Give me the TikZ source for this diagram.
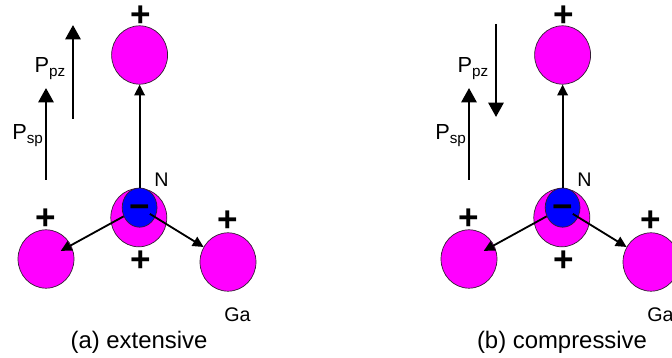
\documentclass[tikz,border=0pt]{standalone}
\usepackage{fontspec}
\setmainfont{Liberation Sans}
\usetikzlibrary{arrows.meta,shapes.geometric}
\definecolor{gamag}{RGB}{255,0,255}
\definecolor{nblue}{RGB}{0,0,255}
\definecolor{rim}{RGB}{50,30,50}

\begin{document}
\begin{tikzpicture}[x=1cm,y=1cm,font=\fontsize{14}{16}\selectfont,
ga/.style={ellipse,draw=rim,line width=.5pt,fill=gamag,minimum width=1.4cm,minimum height=1.46cm,inner sep=0pt},
nat/.style={ellipse,draw=rim,line width=.5pt,fill=nblue,minimum width=.87cm,minimum height=.98cm,inner sep=0pt},
chg/.style={font=\fontsize{25}{25}\selectfont\bfseries,inner sep=0pt},
bond/.style={-{Triangle[length=.27cm,width=.26cm]},line width=1.3pt},
pol/.style={-{Triangle[length=.36cm,width=.38cm]},line width=1.8pt},
lab/.style={anchor=base west,inner sep=0pt},
plab/.style={lab,font=\fontsize{15.5}{17}\selectfont},
captxt/.style={anchor=base,inner sep=0pt,font=\fontsize{17}{20}\selectfont}]
\useasboundingbox (0,0) rectangle (16.8,8.95);

% (a) extensive
\node[ga] (aT) at(3.49,7.575){};
\node[ga] (aL) at(1.15,2.475){};
\node[ga] (aR) at(5.7,2.4){};
\node[ga] (aC) at(3.47,3.51){};
\node[nat] (aN) at(3.49,3.76){};
\node[chg] (aNm) at(3.49,3.66){−};
\node[chg] (aTp) at(3.525,8.55){+};
\node[chg] (aLp) at(1.15,3.475){+};
\node[chg] (aRp) at(5.7,3.41){+};
\node[chg] (aBp) at(3.525,2.425){+};
\draw[bond](aN)--(aT);
\draw[bond,shorten >=.42cm](aN)--(aL.center);
\draw[bond,shorten <=.3cm](aN.center)--(aR);
\coordinate (aS0) at(1.15,4.45); \coordinate (aS1) at(1.15,6.75);
\coordinate (aZ0) at(1.825,5.975); \coordinate (aZ1) at(1.825,8.325);
\draw[pol](aS0)--(aS1);
\draw[pol](aZ0)--(aZ1);
\node[plab] (aPs) at(.3,5.45){P\textsubscript{sp}};
\node[plab] (aPz) at(.86,7.125){P\textsubscript{pz}};
\node[lab] (aNl) at(3.85,4.275){N};
\node[lab] (aGa) at(5.6,.9){Ga};
\node[captxt] (aCap) at(3.475,.225){(a) extensive};

% (b) compressive
\node[ga] (bT) at(14.065,7.575){};
\node[ga] (bL) at(11.725,2.475){};
\node[ga] (bR) at(16.275,2.4){};
\node[ga] (bC) at(14.045,3.51){};
\node[nat] (bN) at(14.065,3.76){};
\node[chg] (bNm) at(14.065,3.66){−};
\node[chg] (bTp) at(14.1,8.55){+};
\node[chg] (bLp) at(11.725,3.475){+};
\node[chg] (bRp) at(16.275,3.41){+};
\node[chg] (bBp) at(14.1,2.425){+};
\draw[bond](bN)--(bT);
\draw[bond,shorten >=.42cm](bN)--(bL.center);
\draw[bond,shorten <=.3cm](bN.center)--(bR);
\coordinate (bS0) at(11.725,4.45); \coordinate (bS1) at(11.725,6.75);
\coordinate (bZ0) at(12.4,8.35); \coordinate (bZ1) at(12.4,6.025);
\draw[pol](bS0)--(bS1);
\draw[pol](bZ0)--(bZ1);
\node[plab] (bPs) at(10.875,5.45){P\textsubscript{sp}};
\node[plab] (bPz) at(11.435,7.125){P\textsubscript{pz}};
\node[lab] (bNl) at(14.425,4.275){N};
\node[lab] (bGa) at(16.175,.9){Ga};
\node[captxt] (bCap) at(14.05,.225){(b) compressive};
\end{tikzpicture}
\end{document}
